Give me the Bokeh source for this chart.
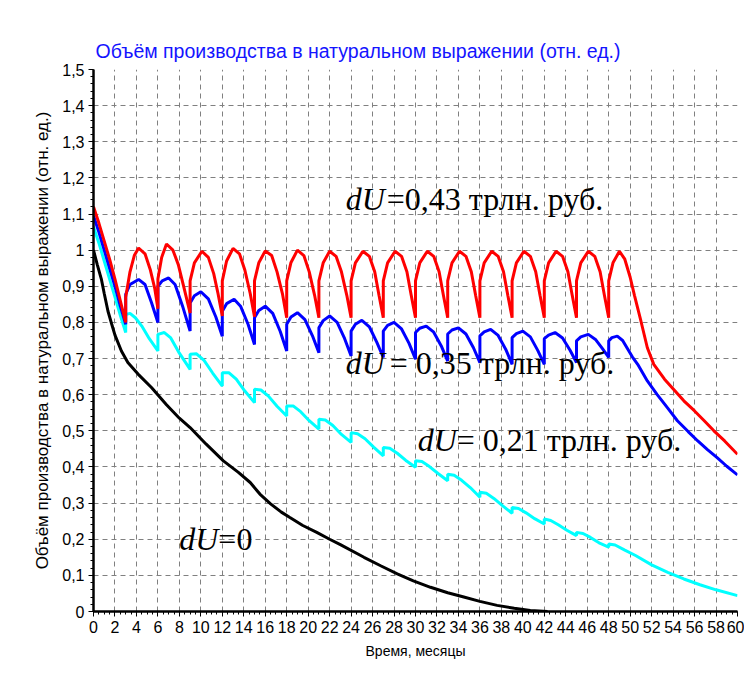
from bokeh.plotting import figure
from bokeh.models import Range1d, FixedTicker, Label
from bokeh.embed import file_html
from bokeh.resources import INLINE

# ---------------- data ----------------
red_x = [0, 0.5, 1.0, 1.5, 2.0, 2.5, 3.0,
         3.0, 3.4, 3.8, 4.2, 4.8, 5.3, 5.7, 6.0,
         6.0, 6.35, 6.8, 7.4, 7.9, 8.4, 9.0,
         9.0, 9.4, 10.1, 10.7, 11.2, 11.6, 12.0,
         12.0, 12.4, 13.0, 13.6, 14.1, 14.6, 15.0,
         15.0, 15.4, 16.0, 16.6, 17.1, 17.6, 18.0,
         18.0, 18.4, 19.0, 19.6, 20.1, 20.6, 21.0,
         21.0, 21.4, 22.0, 22.6, 23.1, 23.6, 24.0,
         24.0, 24.4, 25.1, 25.7, 26.2, 26.6, 27.0,
         27.0, 27.4, 28.1, 28.7, 29.2, 29.6, 30.0,
         30.0, 30.4, 31.1, 31.7, 32.2, 32.6, 33.0,
         33.0, 33.4, 34.1, 34.7, 35.2, 35.6, 36.0,
         36.0, 36.4, 37.1, 37.7, 38.2, 38.6, 39.0,
         39.0, 39.4, 40.1, 40.7, 41.2, 41.6, 42.0,
         42.0, 42.4, 43.1, 43.7, 44.2, 44.6, 45.0,
         45.0, 45.4, 46.1, 46.7, 47.2, 47.6, 48.0,
         48.0, 48.4, 49.0, 49.5, 50.0, 50.4, 51.0, 51.6, 52.2, 53.2,
         54.1, 55.0, 56.0, 56.9, 57.8, 58.8, 60.0]
red_y = [1.12, 1.075, 1.025, 0.975, 0.92, 0.86, 0.80,
         0.87, 0.94, 0.985, 1.006, 0.99, 0.945, 0.895, 0.838,
         0.92, 0.98, 1.017, 1.0, 0.96, 0.90, 0.826,
         0.915, 0.965, 0.997, 0.98, 0.935, 0.88, 0.818,
         0.915, 0.97, 1.005, 0.99, 0.945, 0.88, 0.816,
         0.915, 0.965, 0.998, 0.985, 0.94, 0.88, 0.813,
         0.915, 0.966, 1.0, 0.985, 0.94, 0.875, 0.813,
         0.915, 0.965, 0.997, 0.983, 0.94, 0.875, 0.813,
         0.915, 0.965, 0.997, 0.983, 0.94, 0.875, 0.813,
         0.915, 0.965, 0.997, 0.983, 0.94, 0.875, 0.813,
         0.915, 0.965, 0.997, 0.983, 0.94, 0.875, 0.813,
         0.915, 0.965, 0.997, 0.983, 0.94, 0.875, 0.813,
         0.915, 0.965, 0.997, 0.983, 0.94, 0.875, 0.813,
         0.915, 0.965, 0.997, 0.983, 0.94, 0.875, 0.813,
         0.915, 0.965, 0.997, 0.983, 0.94, 0.875, 0.813,
         0.915, 0.965, 0.997, 0.983, 0.94, 0.875, 0.813,
         0.915, 0.965, 0.997, 0.975, 0.925, 0.875, 0.804, 0.73, 0.684, 0.643,
         0.613, 0.583, 0.555, 0.528, 0.50, 0.472, 0.435]

blue_x = [0, 0.5, 1.0, 1.5, 2.0, 2.5, 3.0,
          3.0, 3.4, 4.2, 4.8, 5.4, 6.0,
          6.0, 6.4, 7.0, 7.6, 8.3, 9.0,
          9.0, 9.4, 10.0, 10.7, 11.4, 12.0,
          12.0, 12.4, 13.1, 13.7, 14.4, 15.0,
          15.0, 15.4, 16.0, 16.7, 17.4, 18.0,
          18.0, 18.4, 19.0, 19.7, 20.4, 21.0,
          21.0, 21.4, 22.0, 22.7, 23.4, 24.0,
          24.0, 24.4, 25.0, 25.7, 26.4, 27.0,
          27.0, 27.4, 28.0, 28.7, 29.4, 30.0,
          30.0, 30.4, 31.0, 31.7, 32.4, 33.0,
          33.0, 33.4, 34.0, 34.7, 35.4, 36.0,
          36.0, 36.4, 37.0, 37.7, 38.4, 39.0,
          39.0, 39.4, 40.0, 40.7, 41.4, 42.0,
          42.0, 42.4, 43.0, 43.7, 44.4, 45.0,
          45.0, 45.4, 46.1, 46.8, 47.4, 48.0,
          48.0, 48.3, 48.8, 49.3, 49.7, 50.2, 50.7, 51.6, 52.5, 53.5,
          54.4, 55.4, 56.3, 57.2, 58.1, 59.0, 60.0]
blue_y = [1.095, 1.05, 1.0, 0.95, 0.90, 0.845, 0.795,
          0.878, 0.905, 0.919, 0.905, 0.855, 0.80,
          0.90, 0.915, 0.923, 0.905, 0.845, 0.776,
          0.854, 0.874, 0.885, 0.865, 0.815, 0.762,
          0.831, 0.852, 0.864, 0.845, 0.795, 0.739,
          0.813, 0.833, 0.845, 0.825, 0.775, 0.721,
          0.795, 0.815, 0.827, 0.808, 0.763, 0.716,
          0.785, 0.805, 0.818, 0.80, 0.755, 0.707,
          0.776, 0.795, 0.806, 0.788, 0.745, 0.703,
          0.776, 0.792, 0.80, 0.782, 0.742, 0.698,
          0.772, 0.784, 0.79, 0.773, 0.735, 0.693,
          0.768, 0.779, 0.785, 0.768, 0.73, 0.689,
          0.763, 0.774, 0.781, 0.764, 0.726, 0.684,
          0.758, 0.769, 0.776, 0.76, 0.722, 0.684,
          0.755, 0.765, 0.772, 0.757, 0.723, 0.689,
          0.749, 0.76, 0.767, 0.752, 0.728, 0.703,
          0.749, 0.758, 0.762, 0.75, 0.73, 0.705, 0.684, 0.638, 0.601, 0.563,
          0.528, 0.498, 0.472, 0.448, 0.426, 0.402, 0.378]

cyan_x = [0, 0.5, 1.0, 1.5, 2.0, 2.5, 3.0,
          3.0, 3.4, 3.9, 4.5, 5.2, 6.0,
          6.0, 6.6, 7.2, 8.0, 9.0,
          9.0, 9.6, 10.3, 11.1, 12.0,
          12.0, 12.6, 13.3, 14.1, 15.0,
          15.0, 15.6, 16.3, 17.1, 18.0,
          18.0, 18.6, 19.3, 20.1, 21.0,
          21.0, 21.6, 22.3, 23.1, 24.0,
          24.0, 24.6, 25.3, 26.1, 27.0,
          27.0, 27.6, 28.3, 29.1, 30.0,
          30.0, 30.6, 31.3, 32.1, 33.0,
          33.0, 33.6, 34.3, 35.1, 36.0,
          36.0, 36.6, 37.3, 38.1, 39.0,
          39.0, 39.6, 40.3, 41.1, 42.0,
          42.0, 42.6, 43.3, 44.1, 45.0,
          45.0, 45.6, 46.3, 47.1, 48.0,
          48.0, 48.6, 49.5, 50.5, 52.0, 53.5, 55.0, 56.5, 58.0, 60.0]
cyan_y = [1.065, 1.02, 0.97, 0.92, 0.87, 0.82, 0.772,
          0.822, 0.825, 0.813, 0.79, 0.755, 0.721,
          0.767, 0.772, 0.757, 0.715, 0.67,
          0.712, 0.713, 0.695, 0.66, 0.624,
          0.661, 0.661, 0.643, 0.61, 0.578,
          0.615, 0.613, 0.596, 0.568, 0.541,
          0.569, 0.569, 0.553, 0.528, 0.505,
          0.532, 0.53, 0.515, 0.49, 0.468,
          0.495, 0.492, 0.478, 0.455, 0.431,
          0.454, 0.452, 0.438, 0.418, 0.399,
          0.417, 0.415, 0.401, 0.382, 0.362,
          0.38, 0.377, 0.363, 0.343, 0.316,
          0.33, 0.327, 0.313, 0.293, 0.272,
          0.288, 0.285, 0.273, 0.257, 0.242,
          0.256, 0.252, 0.24, 0.225, 0.21,
          0.219, 0.216, 0.205, 0.19, 0.178,
          0.187, 0.184, 0.17, 0.155, 0.129, 0.108, 0.09, 0.074, 0.06, 0.044]

black_x = [0, 0.35, 0.73, 1.0, 1.35, 1.7, 2.0, 2.6, 3.2, 4.15, 5.4, 6.8, 8.0, 9.0,
           10.5, 12.1, 13.5, 14.6, 15.5, 16.5, 17.5, 18.3, 19.5, 20.8, 22.0, 23.0,
           25.2, 26.8, 28.3, 29.8, 31.4, 33.0, 34.5, 36.0, 37.6, 39.2, 40.7, 42.3]
black_y = [1.0, 0.96, 0.92, 0.88, 0.831, 0.795, 0.765, 0.721, 0.689, 0.657, 0.62, 0.572, 0.535, 0.509,
           0.463, 0.417, 0.385, 0.357, 0.325, 0.298, 0.275, 0.26, 0.238, 0.219, 0.2, 0.185,
           0.15, 0.126, 0.104, 0.085, 0.067, 0.052, 0.04, 0.028, 0.017, 0.009, 0.003, 0.0]

x_tick_values = list(range(0, 61, 2))
y_tick_values = [i / 10 for i in range(0, 16)]
y_tick_labels = ["0", "0,1", "0,2", "0,3", "0,4", "0,5", "0,6", "0,7", "0,8", "0,9",
                 "1", "1,1", "1,2", "1,3", "1,4", "1,5"]

title_text = "Объём производства в натуральном выражении (отн. ед.)"
x_label = "Время, месяцы"
y_label = "Объём производства в натуральном выражении (отн. ед.)"

# ---------------- figure ----------------
p = figure(width=744, height=682, output_backend="svg", toolbar_location=None,
           x_range=Range1d(0, 60), y_range=Range1d(0, 1.5),
           min_border_left=93, min_border_right=7, min_border_top=69, min_border_bottom=71)

p.title.text = title_text
p.title.text_color = "#1414ff"
p.title.text_font = "Liberation Sans"
p.title.text_font_style = "normal"
p.title.text_font_size = "19.5px"
p.title.align = "left"
p.title.offset = 2
p.title.standoff = 16

p.background_fill_color = "white"
p.border_fill_color = "white"
p.outline_line_color = None

# axes
p.xaxis.ticker = FixedTicker(ticks=x_tick_values,
                             minor_ticks=[i * 0.5 for i in range(0, 121)])
p.yaxis.ticker = FixedTicker(ticks=y_tick_values,
                             minor_ticks=[i * 0.02 for i in range(0, 76)])
p.yaxis.major_label_overrides = {v: s for v, s in zip(y_tick_values, y_tick_labels)}
p.xaxis.major_label_overrides = {v: str(v) for v in x_tick_values}

for ax in (p.xaxis[0], p.yaxis[0]):
    ax.axis_line_color = "black"
    ax.axis_line_width = 2.5
    ax.major_tick_line_color = "black"
    ax.minor_tick_line_color = "black"
    ax.major_tick_in = 0
    ax.major_tick_out = 5
    ax.minor_tick_in = 0
    ax.minor_tick_out = 3
    ax.major_label_text_font = "Liberation Sans"
    ax.major_label_text_font_size = "16px"
    ax.major_label_text_color = "black"
    ax.axis_label_text_font = "Liberation Sans"
    ax.axis_label_text_font_style = "normal"
    ax.axis_label_text_color = "black"

p.xaxis.axis_label = x_label
p.yaxis.axis_label = y_label
p.xaxis.axis_label_text_font_size = "14px"
p.yaxis.axis_label_text_font_size = "17px"
p.xaxis.major_label_standoff = 4
p.yaxis.major_label_standoff = 4
p.xaxis.axis_label_standoff = 7
p.yaxis.axis_label_standoff = 7

# grid
for g in (p.xgrid[0], p.ygrid[0]):
    g.grid_line_color = "#808080"
    g.grid_line_dash = "5 4"
    g.grid_line_width = 1

# curves
p.line(black_x, black_y, line_color="black", line_width=3)
p.line(cyan_x, cyan_y, line_color="#00ffff", line_width=3)
p.line(blue_x, blue_y, line_color="#0000ff", line_width=3)
p.line(red_x, red_y, line_color="#ff0000", line_width=3)

# annotations
ann_font = "Liberation Serif"
ann_size = "32px"
annotations = [
    (23.5, 1.142, 41, "=0,43 трлн. руб."),
    (23.5, 0.688, 44, "= 0,35 трлн. руб."),
    (30.2, 0.475, 39, "= 0,21 трлн. руб."),
    (8.0, 0.202, 39, "=0"),
]
for ax_, ay_, off, rest in annotations:
    p.add_layout(Label(x=ax_, y=ay_, text="dU", text_font=ann_font,
                       text_font_style="italic", text_font_size=ann_size,
                       text_baseline="alphabetic", text_color="black"))
    p.add_layout(Label(x=ax_, y=ay_, x_offset=off, text=rest, text_font=ann_font,
                       text_font_size=ann_size, text_baseline="alphabetic",
                       text_color="black"))

open("out.html", "w").write(file_html(p, INLINE))
